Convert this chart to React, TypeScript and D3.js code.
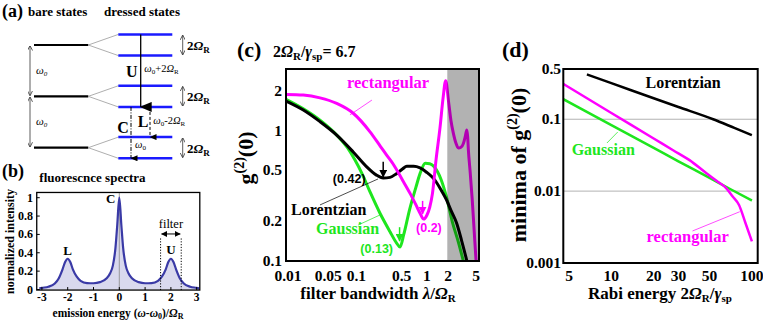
import React from 'react';
import * as d3 from 'd3';

// ---------- (b) fluorescence spectrum ----------
const specX = [-3.1, -3, -2.75, -2.5, -2.35, -2.2, -2.1, -2, -1.9, -1.8, -1.65, -1.5, -1.25, -1, -0.75, -0.5, -0.35, -0.25, -0.15, -0.08, 0,
  0.08, 0.15, 0.25, 0.35, 0.5, 0.75, 1, 1.25, 1.5, 1.65, 1.8, 1.9, 2, 2.1, 2.2, 2.35, 2.5, 2.75, 3, 3.1];
const specY = [0.012, 0.018, 0.03, 0.065, 0.12, 0.22, 0.30, 0.335, 0.30, 0.22, 0.14, 0.095, 0.07, 0.068, 0.08, 0.12, 0.18, 0.26, 0.45, 0.70, 1.0,
  0.70, 0.45, 0.26, 0.18, 0.12, 0.08, 0.068, 0.07, 0.095, 0.14, 0.22, 0.30, 0.335, 0.30, 0.22, 0.12, 0.065, 0.03, 0.018, 0.012];
const bXTicks = [-3, -2, -1, 0, 1, 2, 3];
const bYTicks = [0, 0.2, 0.4, 0.6, 0.8, 1];
const bYTickLabels = ['0', '0.2', '0.4', '0.6', '0.8', '1'];

// ---------- (c) g2(0) vs filter bandwidth ----------
const lorX = [0.01, 0.0176, 0.0304, 0.0525, 0.09, 0.14, 0.19, 0.24, 0.3, 0.37, 0.45, 0.52, 0.65, 0.8, 1.0, 1.2, 1.38, 1.6, 1.9, 2.2, 2.65, 3.1, 3.7, 4.2];
const lorY = [1.70, 1.45, 1.18, 0.93, 0.69, 0.53, 0.46, 0.435, 0.44, 0.47, 0.51, 0.535, 0.535, 0.52, 0.48, 0.44, 0.40, 0.35, 0.295, 0.245, 0.195, 0.145, 0.1, 0.075];
const gauX = [0.01, 0.0176, 0.0304, 0.0525, 0.075, 0.095, 0.12, 0.156, 0.216, 0.3, 0.37, 0.416, 0.47, 0.57, 0.7, 0.8, 0.95, 1.1, 1.27, 1.6, 1.9, 2.3, 2.8, 3.3, 3.8];
const gauY = [1.75, 1.48, 1.21, 0.93, 0.74, 0.60, 0.47, 0.34, 0.233, 0.168, 0.138, 0.128, 0.16, 0.25, 0.37, 0.47, 0.565, 0.56, 0.53, 0.42, 0.31, 0.20, 0.14, 0.1, 0.075];
const recX = [0.01, 0.0176, 0.0304, 0.0525, 0.09, 0.155, 0.22, 0.27, 0.33, 0.45, 0.58, 0.7, 0.8, 0.9, 1.0, 1.1, 1.2, 1.35, 1.54, 1.7, 1.85, 2.02, 2.2, 2.38, 2.6, 2.8, 3.05, 3.3, 3.5, 3.69, 3.8, 3.89, 4.1, 4.4, 4.7, 5.0, 5.3];
const recY = [1.91, 1.89, 1.80, 1.63, 1.37, 0.99, 0.76, 0.65, 0.56, 0.42, 0.33, 0.27, 0.233, 0.21, 0.225, 0.26, 0.33, 0.6, 1.07, 1.8, 2.44, 1.73, 1.2, 0.96, 0.8, 0.74, 0.75, 0.80, 0.9, 1.02, 0.9, 0.71, 0.5, 0.3, 0.17, 0.1, 0.07];
const cXTicks = [0.01, 0.05, 0.1, 0.5, 1, 2, 5];
const cXTickLabels = ['0.01', '0.05', '0.1', '0.5', '1', '2', '5'];
const cYTicks = [0.1, 0.2, 0.5, 1, 2];
const cYTickLabels = ['0.1', '0.2', '0.5', '1', '2'];
const minLor = [0.24, 0.42];
const minGau = [0.41, 0.13];
const minRec = [0.87, 0.2];

// ---------- (d) minima of g2(0) vs Rabi energy ----------
const dLorX = [6.7, 10, 20, 30, 53, 75, 100];
const dLorY = [0.42, 0.318, 0.196, 0.148, 0.1, 0.0757, 0.06];
const dGauX = [4.55, 10, 20, 30, 50, 70, 100];
const dGauY = [0.19, 0.083, 0.040, 0.026, 0.0153, 0.0107, 0.0074];
const dRecX = [4.55, 10, 20, 27.5, 36, 47.5, 56, 65.6, 73, 81, 90, 100];
const dRecY = [0.31, 0.122, 0.054, 0.037, 0.027, 0.0177, 0.0139, 0.011, 0.0084, 0.0064, 0.0036, 0.002];
const dXTicks = [5, 10, 20, 30, 50, 100];
const dXTickLabels = ['5', '10', '20', '30', '50', '100'];
const dYTicks = [0.5, 0.1, 0.01, 0.001];
const dYTickLabels = ['0.5', '0.1', '0.01', '0.001'];
const dGrid = [0.1, 0.01];

// ---------- (a) energy levels (units of ω0) ----------
const bareLevels = [0, 1, 2];
const split = 0.206;

const SERIF = "'Liberation Serif', 'Times New Roman', serif";
const SANS = "'Liberation Sans', Arial, sans-serif";
const MAG = '#ff00ff';
const GRN = '#1ee61e';

const zip = (xs: number[], ys: number[]) => xs.map((x, i) => [x, ys[i]] as [number, number]);

function Sub({ t, size, dy = 3 }: { t: string; size: number; dy?: number }) {
  return <tspan fontSize={size} dy={dy}>{t}</tspan>;
}

export default function App() {
  // (b)
  const xB = d3.scaleLinear().domain([-3, 3]).range([41.9, 196.7]);
  const yB = d3.scaleLinear().domain([0, 1]).range([289.5, 197.7]);
  const bL = xB(-3.2), bR = xB(3.12), bT = yB(1.057), bBot = yB(-0.006);
  const specData = zip(specX, specY);
  const areaB = d3.area<[number, number]>().x(d => xB(d[0])).y0(yB(0)).y1(d => yB(d[1])).curve(d3.curveMonotoneX);
  const lineB = d3.line<[number, number]>().x(d => xB(d[0])).y(d => yB(d[1])).curve(d3.curveMonotoneX);

  // (c)
  const xC = d3.scaleLog().domain([0.01, 5.5]).range([286, 479]);
  const yC = d3.scaleLog().domain([0.1, 3]).range([261, 69]);
  const lineC = d3.line<[number, number]>().x(d => xC(d[0])).y(d => yC(d[1])).curve(d3.curveMonotoneX);
  const cShift = (v: number) => (v === 0.05 ? -7 : v === 0.5 ? -4 : v === 0.01 ? 2 : 0);

  // (d)
  const xD = d3.scaleLog().domain([4.55, 110]).range([563.3, 757.7]);
  const yD = d3.scaleLog().domain([0.001, 0.5]).range([263, 69]);
  const lineD = d3.line<[number, number]>().x(d => xD(d[0])).y(d => yD(d[1])).curve(d3.curveMonotoneX);

  // (a)
  const yA = d3.scaleLinear().domain([0, 2]).range([147.7, 45]);
  const bareX0 = 34, bareX1 = 88.3, dX0 = 118.3, dX1 = 172.3;

  const tickFont = { fontFamily: SERIF, fontWeight: 'bold' as const, fontSize: 15.5 };

  return (
    <svg width={763} height={321} style={{ position: 'absolute', left: 0, top: 0, background: '#fff' }}>
      <defs>
        <marker id="headBig" markerUnits="userSpaceOnUse" markerWidth="10" markerHeight="12" refX="5" refY="11" orient="auto-start-reverse" viewBox="0 0 10 12">
          <path d="M0,0 L5,12 L10,0 Z" fill="#000" />
        </marker>
        <marker id="headSm" markerUnits="userSpaceOnUse" markerWidth="6" markerHeight="7" refX="3" refY="6.5" viewBox="0 0 6 7" orient="auto">
          <path d="M0,0 L3,7 L6,0 Z" fill="#000" />
        </marker>
        <marker id="headTiny" markerUnits="userSpaceOnUse" markerWidth="5" markerHeight="5" refX="4.5" refY="2.5" viewBox="0 0 5 5" orient="auto-start-reverse">
          <path d="M0,0 L5,2.5 L0,5" fill="none" stroke="#333" strokeWidth="0.8" />
        </marker>
        <marker id="headFill" markerUnits="userSpaceOnUse" markerWidth="6" markerHeight="6" refX="5.5" refY="3" viewBox="0 0 6 6" orient="auto-start-reverse">
          <path d="M0,0 L6,3 L0,6 Z" fill="#000" />
        </marker>
        <marker id="arrK" markerUnits="userSpaceOnUse" markerWidth="8" markerHeight="8" refX="7" refY="4" viewBox="0 0 8 8" orient="auto">
          <path d="M0,0 L8,4 L0,8 Z" fill="#000" />
        </marker>
        <marker id="arrG" markerUnits="userSpaceOnUse" markerWidth="8" markerHeight="8" refX="7" refY="4" viewBox="0 0 8 8" orient="auto">
          <path d="M0,0 L8,4 L0,8 Z" fill={GRN} />
        </marker>
        <marker id="arrM" markerUnits="userSpaceOnUse" markerWidth="8" markerHeight="8" refX="7" refY="4" viewBox="0 0 8 8" orient="auto">
          <path d="M0,0 L8,4 L0,8 Z" fill={MAG} />
        </marker>
        <clipPath id="clipC"><rect x={xC(0.01)} y={yC(3)} width={xC(5.5) - xC(0.01)} height={yC(0.1) - yC(3)} /></clipPath>
        <clipPath id="clipD"><rect x={xD(4.55)} y={yD(0.5)} width={xD(110) - xD(4.55)} height={yD(0.001) - yD(0.5)} /></clipPath>
        <clipPath id="clipB"><rect x={bL} y={bT} width={bR - bL} height={bBot - bT} /></clipPath>
      </defs>

      {/* ================= (a) ================= */}
      <text x={2} y={17} fontFamily={SERIF} fontWeight="bold" fontSize={18}>(a)</text>
      <text x={28} y={16} fontFamily={SERIF} fontWeight="bold" fontSize={13}>bare states</text>
      <text x={104} y={16} fontFamily={SERIF} fontWeight="bold" fontSize={13}>dressed states</text>
      {bareLevels.map(e => (
        <g key={'bl' + e}>
          <line x1={bareX0} x2={bareX1} y1={yA(e)} y2={yA(e)} stroke="#000" strokeWidth={2.2} />
          <line x1={bareX1} x2={dX0} y1={yA(e)} y2={yA(e + split)} stroke="#999" strokeWidth={0.8} />
          <line x1={bareX1} x2={dX0} y1={yA(e)} y2={yA(e - split)} stroke="#999" strokeWidth={0.8} />
          <line x1={dX0} x2={dX1} y1={yA(e + split)} y2={yA(e + split)} stroke="#1a1aff" strokeWidth={2.5} />
          <line x1={dX0} x2={dX1} y1={yA(e - split)} y2={yA(e - split)} stroke="#1a1aff" strokeWidth={2.5} />
          <line x1={182.7} x2={182.7} y1={yA(e + split) + 1} y2={yA(e - split) - 1} stroke="#333" strokeWidth={0.8} markerStart="url(#headTiny)" markerEnd="url(#headTiny)" />
          <text x={187} y={yA(e) + 5} fontFamily={SERIF} fontWeight="bold" fontSize={13}>2<tspan fontStyle="italic">Ω</tspan><Sub t="R" size={9} /></text>
        </g>
      ))}
      {[0, 1].map(e => (
        <g key={'w' + e}>
          <line x1={30} x2={30} y1={yA(e + 1) + 1} y2={yA(e) - 1} stroke="#333" strokeWidth={0.8} markerStart="url(#headTiny)" markerEnd="url(#headTiny)" />
          <text x={36} y={(yA(e) + yA(e + 1)) / 2 + 3} fontFamily={SERIF} fontStyle="italic" fontSize={11}>ω<Sub t="0" size={7} dy={2} /></text>
        </g>
      ))}
      {/* U transition */}
      <line x1={140.7} x2={140.7} y1={yA(2 + split)} y2={yA(1 - split)} stroke="#000" strokeWidth={1.3} markerEnd="url(#headBig)" />
      <text x={131.7} y={77.3} textAnchor="middle" fontFamily={SERIF} fontWeight="bold" fontSize={16}>U</text>
      <text x={144.3} y={71.7} fontFamily={SERIF} fontSize={10.5}><tspan fontStyle="italic">ω</tspan><Sub t="0" size={7} dy={2} /><tspan dy={-2}>+2</tspan><tspan fontStyle="italic">Ω</tspan><Sub t="R" size={7} dy={2} /></text>
      {/* L transition */}
      <line x1={150} x2={150} y1={yA(1 - split)} y2={yA(0 + split)} stroke="#000" strokeWidth={1} strokeDasharray="3,2" markerEnd="url(#headSm)" />
      <text x={143} y={126.7} textAnchor="middle" fontFamily={SERIF} fontWeight="bold" fontSize={16}>L</text>
      <text x={153.3} y={124} fontFamily={SERIF} fontSize={10.5}><tspan fontStyle="italic">ω</tspan><Sub t="0" size={7} dy={2} /><tspan dy={-2}>-2</tspan><tspan fontStyle="italic">Ω</tspan><Sub t="R" size={7} dy={2} /></text>
      {/* C transition */}
      <line x1={131} x2={131} y1={yA(1 - split)} y2={yA(0 - split)} stroke="#000" strokeWidth={1} strokeDasharray="4,1.5,1,1.5" markerEnd="url(#headSm)" />
      <text x={123} y={133.3} textAnchor="middle" fontFamily={SERIF} fontWeight="bold" fontSize={16}>C</text>
      <text x={135} y={147.7} fontFamily={SERIF} fontSize={10.5}><tspan fontStyle="italic">ω</tspan><Sub t="0" size={7} dy={2} /></text>

      {/* ================= (b) ================= */}
      <text x={2} y={177} fontFamily={SERIF} fontWeight="bold" fontSize={18}>(b)</text>
      <text x={39.3} y={181.7} fontFamily={SERIF} fontWeight="bold" fontSize={13}>fluorescnce spectra</text>
      <g clipPath="url(#clipB)">
        <path d={areaB(specData) || ''} fill="#d9d9ee" />
        <line x1={xB(0)} x2={xB(0)} y1={bT} y2={bBot} stroke="#888" strokeWidth={0.8} />
        <path d={lineB(specData) || ''} fill="none" stroke="#3a3aa6" strokeWidth={2.2} />
      </g>
      {[1.6, 2.4].map(v => (
        <line key={'f' + v} x1={xB(v)} x2={xB(v)} y1={bBot} y2={yB(0.56)} stroke="#000" strokeWidth={1} strokeDasharray="1.2,1.6" />
      ))}
      <line x1={xB(1.6) + 1} x2={xB(2.4) - 1} y1={yB(0.605)} y2={yB(0.605)} stroke="#000" strokeWidth={1} markerStart="url(#headFill)" markerEnd="url(#headFill)" />
      <text x={xB(2)} y={yB(0.67)} textAnchor="middle" fontFamily={SERIF} fontSize={12.5}>filter</text>
      <text x={xB(-0.33)} y={yB(0.94)} textAnchor="middle" fontFamily={SERIF} fontWeight="bold" fontSize={13}>C</text>
      <text x={xB(-2)} y={yB(0.376)} textAnchor="middle" fontFamily={SERIF} fontWeight="bold" fontSize={13}>L</text>
      <text x={xB(2)} y={yB(0.39)} textAnchor="middle" fontFamily={SERIF} fontWeight="bold" fontSize={13}>U</text>
      <rect x={bL} y={bT} width={bR - bL} height={bBot - bT} fill="none" stroke="#000" strokeWidth={1.3} />
      {bXTicks.map(v => (
        <g key={'bx' + v}>
          <line x1={xB(v)} x2={xB(v)} y1={bBot} y2={bBot - 3} stroke="#000" strokeWidth={1} />
          <text x={xB(v)} y={301} textAnchor="middle" fontFamily={SERIF} fontWeight="bold" fontSize={11.5}>{v}</text>
        </g>
      ))}
      {bYTicks.map((v, i) => (
        <g key={'by' + v}>
          <line x1={bL} x2={bL + 3} y1={yB(v)} y2={yB(v)} stroke="#000" strokeWidth={1} />
          <text x={33} y={yB(v) + 4} textAnchor="end" fontFamily={SERIF} fontWeight="bold" fontSize={12}>{bYTickLabels[i]}</text>
        </g>
      ))}
      <text transform="translate(14,241.5) rotate(-90)" textAnchor="middle" fontFamily={SERIF} fontWeight="bold" fontSize={12}>normalized intensity</text>
      <text x={118} y={316.5} textAnchor="middle" fontFamily={SERIF} fontWeight="bold" fontSize={11.5}>emission energy (<tspan fontStyle="italic">ω</tspan>-<tspan fontStyle="italic">ω</tspan><Sub t="0" size={8} dy={2} /><tspan dy={-2}>)/</tspan><tspan fontStyle="italic">Ω</tspan><Sub t="R" size={8} dy={2} /></text>

      {/* ================= (c) ================= */}
      <text x={237} y={57} fontFamily={SERIF} fontWeight="bold" fontSize={22}>(c)</text>
      <text x={273} y={57} fontFamily={SERIF} fontWeight="bold" fontSize={16}>2<tspan fontStyle="italic">Ω</tspan><Sub t="R" size={11} /><tspan dy={-3}>/</tspan><tspan fontStyle="italic">γ</tspan><Sub t="sp" size={11} /><tspan dy={-3}>= 6.7</tspan></text>
      <g clipPath="url(#clipC)">
        <path d={lineC(zip(gauX, gauY)) || ''} fill="none" stroke={GRN} strokeWidth={3} />
        <path d={lineC(zip(lorX, lorY)) || ''} fill="none" stroke="#000" strokeWidth={3} />
        <path d={lineC(zip(recX, recY)) || ''} fill="none" stroke={MAG} strokeWidth={3} />
        <rect x={xC(1.95)} y={yC(3)} width={xC(5.5) - xC(1.95)} height={yC(0.1) - yC(3)} fill="#000" fillOpacity={0.3} />
      </g>
      <rect x={xC(0.01)} y={yC(3)} width={xC(5.5) - xC(0.01)} height={yC(0.1) - yC(3)} fill="none" stroke="#000" strokeWidth={2} />
      {cXTicks.map((v, i) => (
        <text key={'cx' + v} x={xC(v) + cShift(v)} y={281} textAnchor="middle" {...tickFont}>{cXTickLabels[i]}</text>
      ))}
      {cYTicks.map((v, i) => (
        <text key={'cy' + v} x={282} y={yC(v) + 4.5} textAnchor="end" {...tickFont}>{cYTickLabels[i]}</text>
      ))}
      <text transform="translate(253,158) rotate(-90)" textAnchor="middle" fontFamily={SERIF} fontWeight="bold" fontSize={22}>g<tspan fontSize={14} dy={-9}>(2)</tspan><tspan dy={9}>(0)</tspan></text>
      <text x={378} y={299} textAnchor="middle" fontFamily={SERIF} fontWeight="bold" fontSize={17}>filter bandwidth <tspan fontStyle="italic">λ</tspan>/<tspan fontStyle="italic">Ω</tspan><Sub t="R" size={11} dy={3} /></text>
      {/* minima arrows */}
      <line x1={xC(minLor[0])} x2={xC(minLor[0])} y1={yC(0.58)} y2={yC(0.445)} stroke="#000" strokeWidth={1.5} markerEnd="url(#arrK)" />
      <line x1={xC(minGau[0])} x2={xC(minGau[0])} y1={yC(0.182)} y2={yC(0.143)} stroke={GRN} strokeWidth={1.5} markerEnd="url(#arrG)" />
      <line x1={xC(minRec[0])} x2={xC(minRec[0])} y1={yC(0.29)} y2={yC(0.231)} stroke={MAG} strokeWidth={1.5} markerEnd="url(#arrM)" />
      <text x={xC(0.079)} y={yC(0.40)} textAnchor="middle" fontFamily={SANS} fontWeight="bold" fontSize={12.5} fill="#000">({minLor[1]})</text>
      <text x={xC(0.194)} y={yC(0.115)} textAnchor="middle" fontFamily={SANS} fontWeight="bold" fontSize={12.5} fill={GRN}>({minGau[1]})</text>
      <text x={xC(1.07)} y={yC(0.167)} textAnchor="middle" fontFamily={SANS} fontWeight="bold" fontSize={12.5} fill={MAG}>({minRec[1]})</text>
      {/* series labels */}
      <line x1={xC(0.0304)} y1={yC(0.27)} x2={xC(0.203)} y2={yC(0.428)} stroke="#000" strokeWidth={0.7} />
      <text x={xC(0.0118)} y={yC(0.226)} fontFamily={SERIF} fontWeight="bold" fontSize={16} fill="#000">Lorentzian</text>
      <line x1={xC(0.1055)} y1={yC(0.189)} x2={xC(0.216)} y2={yC(0.226)} stroke={GRN} strokeWidth={0.7} />
      <text x={xC(0.0267)} y={yC(0.161)} fontFamily={SERIF} fontWeight="bold" fontSize={16} fill={GRN}>Gaussian</text>
      <line x1={xC(0.081)} y1={yC(1.33)} x2={xC(0.166)} y2={yC(1.73)} stroke={MAG} strokeWidth={0.7} />
      <text x={xC(0.0735)} y={yC(2.14)} fontFamily={SERIF} fontWeight="bold" fontSize={16.5} fill={MAG}>rectangular</text>

      {/* ================= (d) ================= */}
      <text x={502} y={57} fontFamily={SERIF} fontWeight="bold" fontSize={22}>(d)</text>
      <g clipPath="url(#clipD)">
        {dGrid.map(v => (
          <line key={'dg' + v} x1={xD(4.55)} x2={xD(110)} y1={yD(v)} y2={yD(v)} stroke="#aaa" strokeWidth={0.9} />
        ))}
        <path d={lineD(zip(dLorX, dLorY)) || ''} fill="none" stroke="#000" strokeWidth={2.5} />
        <path d={lineD(zip(dGauX, dGauY)) || ''} fill="none" stroke={GRN} strokeWidth={2.5} />
        <path d={lineD(zip(dRecX, dRecY)) || ''} fill="none" stroke={MAG} strokeWidth={2.5} />
      </g>
      <rect x={xD(4.55)} y={yD(0.5)} width={xD(110) - xD(4.55)} height={yD(0.001) - yD(0.5)} fill="none" stroke="#000" strokeWidth={2} />
      {dXTicks.map((v, i) => (
        <text key={'dx' + v} x={xD(v)} y={281} textAnchor="middle" {...tickFont}>{dXTickLabels[i]}</text>
      ))}
      {dYTicks.map((v, i) => (
        <text key={'dy' + v} x={561} y={yD(v) + 5} textAnchor="end" {...tickFont}>{dYTickLabels[i]}</text>
      ))}
      <text transform="translate(526,165) rotate(-90)" textAnchor="middle" fontFamily={SERIF} fontWeight="bold" fontSize={22}>minima of g<tspan fontSize={14} dy={-9}>(2)</tspan><tspan dy={9}>(0)</tspan></text>
      <text x={660} y={299} textAnchor="middle" fontFamily={SERIF} fontWeight="bold" fontSize={17}>Rabi energy 2<tspan fontStyle="italic">Ω</tspan><Sub t="R" size={11} /><tspan dy={-3}>/</tspan><tspan fontStyle="italic">γ</tspan><Sub t="sp" size={11} /></text>
      <text x={xD(17.5)} y={yD(0.272)} fontFamily={SERIF} fontWeight="bold" fontSize={16} fill="#000">Lorentzian</text>
      <line x1={xD(9.3)} y1={yD(0.0467)} x2={xD(11.1)} y2={yD(0.0664)} stroke={GRN} strokeWidth={0.7} />
      <text x={xD(5.22)} y={yD(0.0318)} fontFamily={SERIF} fontWeight="bold" fontSize={16} fill={GRN}>Gaussian</text>
      <line x1={xD(37.8)} y1={yD(0.00279)} x2={xD(82)} y2={yD(0.00517)} stroke={MAG} strokeWidth={0.7} />
      <text x={xD(17.8)} y={yD(0.00198)} fontFamily={SERIF} fontWeight="bold" fontSize={16.5} fill={MAG}>rectangular</text>
    </svg>
  );
}
